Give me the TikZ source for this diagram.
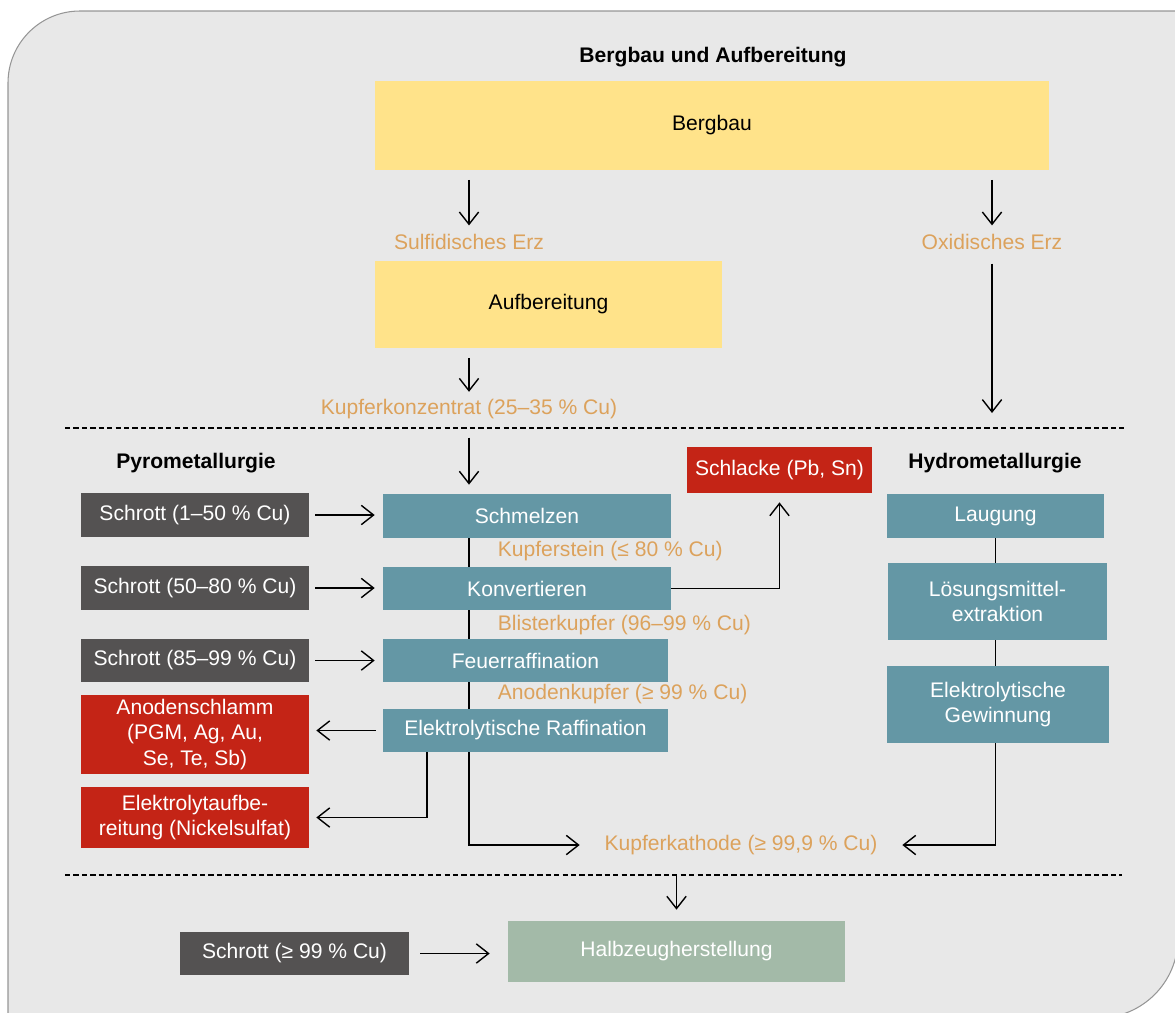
\documentclass[tikz,border=0pt]{standalone}
\usepackage{fontspec}
\setmainfont{Liberation Sans}
\usetikzlibrary{arrows.meta,positioning}
\definecolor{bgfill}{RGB}{232,232,232}
\definecolor{bgline}{RGB}{150,150,150}
\definecolor{orefill}{RGB}{255,227,138}
\definecolor{procfill}{RGB}{100,151,165}
\definecolor{slagfill}{RGB}{196,36,22}
\definecolor{scrapfill}{RGB}{84,82,82}
\definecolor{semifill}{RGB}{163,186,168}
\definecolor{flowtext}{RGB}{220,162,92}

\begin{document}
\begin{tikzpicture}[x=0.02cm, y=-0.02cm, font=\fontsize{12}{14.5}\selectfont,
    box/.style={rectangle, inner sep=0pt, align=center, text=white},
    orebox/.style={box, fill=orefill, text=black},
    procbox/.style={box, fill=procfill},
    slagbox/.style={box, fill=slagfill},
    scrapbox/.style={box, fill=scrapfill, minimum width=4.56cm, minimum height=0.87cm},
    flowlbl/.style={text=flowtext, inner sep=2pt},
    head/.style={font=\fontsize{12}{14.5}\selectfont\bfseries},
    arr/.style={-{Straight Barb[length=7pt,width=11pt]}, line width=0.8pt},
    conn/.style={line width=0.8pt},
    cut/.style={dash pattern=on 3pt off 1.8pt, line width=0.8pt}]
\useasboundingbox (0,0) rectangle (1175,1012);
% background panel
\draw[bgline, fill=bgfill, line width=0.6pt] (8,1030) -- (8,83) .. controls (8,43.2) and (40.2,11) .. (80,11)
  -- (1178,11) -- (1178,938) .. controls (1178,982.2) and (1142.2,1018) .. (1098,1018) -- (8,1018) -- cycle;

% mining and processing
\node[head] (tmine) at (713,57) {Bergbau und Aufbereitung};
\node[orebox, minimum width=13.48cm, minimum height=1.78cm] (mine) at (712,125) {Bergbau};
\node[flowlbl] (sulf) at (469,242) {Sulfidisches Erz};
\node[flowlbl] (oxid) at (992,242) {Oxidisches Erz};
\node[orebox, minimum width=6.94cm, minimum height=1.74cm] (prep) at (548.5,304) {Aufbereitung};
\node[flowlbl] (conc) at (469,409) {Kupferkonzentrat (25–35 \% Cu)};
\coordinate (hyin) at (992,413);
\draw[arr, shorten <=0.2cm, shorten >=0.1cm] (mine.south -| sulf.north) -- (sulf.north);
\draw[arr, shorten <=0.2cm, shorten >=0.1cm] (mine.south -| oxid.north) -- (oxid.north);
\draw[arr, shorten <=0.2cm, shorten >=0.07cm] (prep.south -| conc.north) -- (conc.north);
\draw[arr, shorten <=0.2cm] (oxid.south) -- (hyin);

\draw[cut] (65,428) -- (1125,428);

% pyrometallurgy
\node[head] (tpyro) at (196,463) {Pyrometallurgie};
\node[procbox, minimum width=5.76cm, minimum height=0.88cm] (p1) at (527,516) {Schmelzen};
\node[procbox, minimum width=5.76cm, minimum height=0.86cm] (p2) at (527,588.5) {Konvertieren};
\node[procbox, minimum width=5.7cm, minimum height=0.86cm] (p3) at (525.5,660.5) {Feuerraffination};
\node[procbox, minimum width=5.7cm, minimum height=0.86cm] (p4) at (525.5,730.5) {Elektrolytische Raffination};
\node[slagbox, minimum width=3.7cm, minimum height=0.92cm] (slag) at (779.5,470) {Schlacke (Pb, Sn)};
\node[flowlbl, anchor=west] (matte) at (494,551) {Kupferstein (≤ 80 \% Cu)};
\node[flowlbl, anchor=west] (blister) at (494,625) {Blisterkupfer (96–99 \% Cu)};
\node[flowlbl, anchor=west] (anode) at (494,694) {Anodenkupfer (≥ 99 \% Cu)};
\node[slagbox, minimum width=4.56cm, minimum height=1.58cm] (mud) at (195,734.5) {Anodenschlamm\\(PGM, Ag, Au,\\Se, Te, Sb)};
\node[slagbox, minimum width=4.56cm, minimum height=1.22cm] (elyt) at (195,817.5) {Elektrolytaufbe-\\reitung (Nickelsulfat)};
\foreach \i/\yy/\t in {1/515/{Schrott (1–50 \% Cu)}, 2/588/{Schrott (50–80 \% Cu)}, 3/660.5/{Schrott (85–99 \% Cu)}} {
  \node[scrapbox] (s\i) at (195,\yy) {\t};
  \draw[arr, shorten <=0.12cm, shorten >=0.16cm] (s\i) -- (s\i -| p\i.west);
}
\draw[arr, shorten <=0.3cm, shorten >=0.18cm] (conc.south) -- (conc.south |- p1.north);
\draw[conn] (p1.south -| conc.south) -- (p2.north -| conc.south);
\draw[conn] (p2.south -| conc.south) -- (p3.north -| conc.south);
\draw[conn] (p3.south -| conc.south) -- (p4.north -| conc.south);
\draw[arr, shorten >=0.18cm] (p2.east) -| (slag.south);
\draw[arr, shorten <=0.14cm, shorten >=0.14cm] (p4.west) -- (p4.west -| mud.east);
\draw[arr, shorten >=0.14cm] ([xshift=-1.97cm]p4.south) |- (elyt.east);

% hydrometallurgy
\node[head] (thydro) at (995,463) {Hydrometallurgie};
\node[procbox, minimum width=4.34cm, minimum height=0.88cm] (h1) at (995.5,516) {Laugung};
\node[procbox, minimum width=4.38cm, minimum height=1.54cm] (h2) at (997.5,601.5) {Lösungsmittel-\\extraktion};
\node[procbox, minimum width=4.44cm, minimum height=1.54cm] (h3) at (998,704.5) {Elektrolytische\\Gewinnung};
\draw[conn] (h1.south) -- (h1.south |- h2.north);
\draw[conn] (h2.south -| h1.south) -- (h3.north -| h1.south);

% cathode
\node[flowlbl] (cath) at (741,845) {Kupferkathode (≥ 99,9 \% Cu)};
\draw[arr, shorten >=0.42cm] (p4.south -| conc.south) |- (cath.west);
\draw[arr, shorten >=0.42cm] (h3.south -| h1.south) |- (cath.east);

\draw[cut] (65,875) -- (1122,875);

% semi-finished products
\node[box, fill=semifill, minimum width=6.74cm, minimum height=1.22cm] (semi) at (676.5,951.5) {Halbzeugherstellung};
\node[scrapbox, minimum width=4.58cm, minimum height=0.86cm] (s4) at (294.5,953.5) {Schrott (≥ 99 \% Cu)};
\draw[arr, shorten <=0.22cm, shorten >=0.36cm] (s4) -- (s4 -| semi.west);
\draw[arr, shorten <=0.34cm, shorten >=0.22cm] (semi.north |- cath.south) -- (semi.north);
\end{tikzpicture}
\end{document}
